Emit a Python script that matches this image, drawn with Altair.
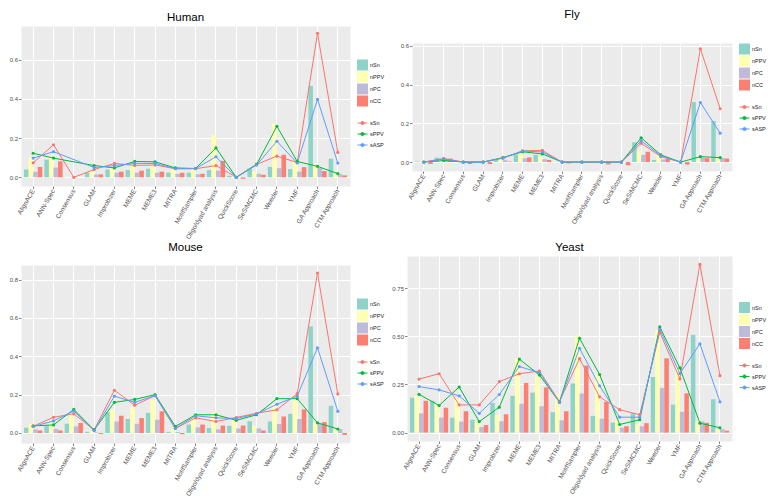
import altair as alt
import pandas as pd
import numpy as np

cats = ["AlignACE", "ANN-Spec", "Consensus", "GLAM", "Improbizer", "MEME", "MEME3",
        "MITRA", "MotifSampler", "Oligo/dyad analysis", "QuickScore", "SeSiMCMC",
        "Weeder", "YMF", "GA Approach", "CTM Approach"]
bar_series = ["nSn", "nPPV", "nPC", "nCC"]
line_series = ["sSn", "sPPV", "sASP"]
bar_colors = ["#8DD3C7", "#FFFFB3", "#BEBADA", "#FB8072"]
line_colors = ["#F8766D", "#00BA38", "#619CFF"]

# Human
h_nSn = [0.040, 0.090, 0.000, 0.024, 0.040, 0.037, 0.044, 0.024, 0.024, 0.037, 0.008, 0.045, 0.053, 0.042, 0.466, 0.095]
h_nPPV = [0.104, 0.106, 0.000, 0.030, 0.052, 0.076, 0.068, 0.044, 0.044, 0.215, 0.000, 0.029, 0.274, 0.085, 0.065, 0.020]
h_nPC = [0.029, 0.050, 0.000, 0.015, 0.024, 0.024, 0.024, 0.018, 0.016, 0.034, 0.000, 0.018, 0.047, 0.029, 0.048, 0.016]
h_nCC = [0.053, 0.082, 0.000, 0.015, 0.029, 0.034, 0.029, 0.023, 0.018, 0.084, -0.007, 0.013, 0.115, 0.052, 0.032, 0.010]
h_sSn = [0.074, 0.166, 0.000, 0.040, 0.071, 0.061, 0.063, 0.044, 0.044, 0.060, 0.000, 0.066, 0.108, 0.076, 0.734, 0.127]
h_sPPV = [0.123, 0.098, None, 0.060, 0.048, 0.081, 0.079, 0.048, 0.045, 0.150, 0.000, 0.066, 0.260, 0.081, 0.056, 0.019]
h_sASP = [0.098, 0.131, None, 0.050, 0.060, 0.071, 0.071, 0.044, 0.045, 0.105, 0.000, 0.063, 0.184, 0.073, 0.397, 0.073]

# Fly
f_nSn = [0.003, 0.023, 0.000, 0.000, 0.015, 0.039, 0.037, 0.000, 0.000, 0.000, 0.000, 0.102, 0.011, 0.000, 0.309, 0.212]
f_nPPV = [0.000, 0.010, 0.000, 0.000, 0.023, 0.047, 0.028, 0.000, 0.003, 0.000, 0.000, 0.055, 0.039, 0.000, 0.020, 0.023]
f_nPC = [0.000, 0.012, 0.000, 0.000, 0.010, 0.019, 0.015, 0.000, 0.000, 0.000, 0.000, 0.037, 0.013, 0.000, 0.023, 0.021]
f_nCC = [-0.010, 0.018, -0.010, -0.010, 0.003, 0.024, 0.011, -0.007, -0.004, -0.012, -0.016, 0.053, 0.016, -0.013, 0.020, 0.018]
f_sSn = [0.000, 0.019, 0.000, 0.000, 0.020, 0.058, 0.060, 0.000, 0.000, 0.000, 0.000, 0.097, 0.028, 0.000, 0.584, 0.275]
f_sPPV = [0.000, 0.008, 0.000, 0.000, 0.023, 0.053, 0.042, 0.000, 0.000, 0.000, 0.000, 0.125, 0.037, 0.000, 0.028, 0.023]
f_sASP = [0.000, 0.016, 0.000, 0.000, 0.021, 0.057, 0.052, 0.000, 0.000, 0.000, 0.000, 0.110, 0.032, 0.000, 0.307, 0.149]

# Mouse
m_nSn = [0.027, 0.036, 0.048, 0.006, 0.108, 0.073, 0.105, 0.006, 0.044, 0.026, 0.037, 0.061, 0.060, 0.100, 0.556, 0.142]
m_nPPV = [0.048, 0.048, 0.100, 0.013, 0.121, 0.134, 0.171, 0.021, 0.086, 0.107, 0.086, 0.037, 0.150, 0.200, 0.053, 0.021]
m_nPC = [0.019, 0.021, 0.034, 0.003, 0.060, 0.048, 0.069, 0.005, 0.029, 0.019, 0.024, 0.024, 0.047, 0.073, 0.048, 0.021]
m_nCC = [0.013, 0.013, 0.052, -0.005, 0.090, 0.078, 0.113, -0.006, 0.044, 0.039, 0.039, 0.013, 0.086, 0.123, 0.057, -0.010]
m_sSn = [0.035, 0.082, 0.100, 0.016, 0.223, 0.145, 0.195, 0.023, 0.079, 0.060, 0.081, 0.103, 0.121, 0.205, 0.834, 0.204]
m_sPPV = [0.037, 0.042, 0.123, 0.016, 0.160, 0.175, 0.200, 0.034, 0.095, 0.095, 0.066, 0.095, 0.179, 0.179, 0.053, 0.021]
m_sASP = [0.034, 0.063, 0.115, 0.013, 0.192, 0.160, 0.195, 0.024, 0.090, 0.079, 0.076, 0.099, 0.150, 0.192, 0.444, 0.113]

# Yeast
y_nSn = [0.181, 0.165, 0.077, 0.067, 0.154, 0.191, 0.208, 0.106, 0.255, 0.087, 0.052, 0.101, 0.289, 0.145, 0.508, 0.173]
y_nPPV = [0.190, 0.149, 0.181, 0.060, 0.092, 0.386, 0.296, 0.200, 0.505, 0.304, 0.067, 0.041, 0.533, 0.345, 0.059, 0.018]
y_nPC = [0.100, 0.078, 0.057, 0.029, 0.059, 0.150, 0.137, 0.064, 0.203, 0.072, 0.025, 0.033, 0.232, 0.108, 0.059, 0.018]
y_nCC = [0.165, 0.129, 0.111, 0.039, 0.095, 0.258, 0.235, 0.111, 0.348, 0.160, 0.033, 0.049, 0.386, 0.204, 0.051, 0.010]
y_sSn = [0.278, 0.306, 0.144, 0.144, 0.265, 0.306, 0.320, 0.162, 0.384, 0.186, 0.119, 0.093, 0.521, 0.279, 0.874, 0.296]
y_sPPV = [0.199, 0.141, 0.237, 0.057, 0.132, 0.382, 0.299, 0.158, 0.490, 0.302, 0.042, 0.067, 0.549, 0.337, 0.049, 0.025]
y_sASP = [0.239, 0.222, 0.191, 0.100, 0.198, 0.343, 0.312, 0.157, 0.438, 0.243, 0.080, 0.080, 0.536, 0.307, 0.461, 0.160]

FONT = "Liberation Sans"
LINE_SYMBOL = "M-1,0L1,0M-0.32,0A0.32,0.32,0,1,1,0.32,0A0.32,0.32,0,1,1,-0.32,0Z"


def title_params(text, offset):
    return alt.TitleParams(text=text, offset=offset, anchor="middle", font=FONT,
                           fontSize=11.5, fontWeight="normal", color="black")


def make_panel(bars, lines, w, h, major, fmt, ext, title=None, title_offset=3):
    brows = []
    for s, vals in zip(bar_series, bars):
        for c, v in zip(cats, vals):
            brows.append({"cat": c, "series": s, "value": v})
    bdf = pd.DataFrame(brows)
    lrows = []
    for s, vals in zip(line_series, lines):
        for c, v in zip(cats, vals):
            if v is not None:
                lrows.append({"cat": c, "series": s, "value": v})
    ldf = pd.DataFrame(lrows)

    allv = list(bdf["value"]) + list(ldf["value"])
    lo, hi = min(min(allv), 0.0), max(allv)
    pad = (hi - lo) * 0.05
    dom = [lo - pad, hi + pad]
    minor = major / 2
    k0 = int(np.ceil(dom[0] / minor - 1e-9))
    k1 = int(np.floor(dom[1] / minor + 1e-9))
    vals = [round(k * minor, 5) for k in range(k0, k1 + 1)]
    test = f"abs(datum.value / {major} - round(datum.value / {major})) < 0.001"

    yaxis = alt.Axis(
        title=None, values=vals, labelOverlap=False, minExtent=ext, maxExtent=ext,
        labelFontSize=6,
        labelExpr=f"({test}) ? format(datum.value, '{fmt}') : ''",
        gridWidth={"condition": {"test": test, "value": 1.0}, "value": 0.5},
        tickColor={"condition": {"test": test, "value": "#333333"}, "value": "transparent"},
    )
    yscale = alt.Scale(domain=dom, nice=False, zero=False)
    xscale = alt.Scale(domain=cats, paddingInner=0.1, paddingOuter=0.15)
    xaxis = alt.Axis(title=None, labelAngle=-60, bandPosition=0.5, grid=True,
                     gridWidth=1.0, labelFontSize=6.5, labelPadding=1)

    leg_fill_y = (h - 93) / 2
    fill_legend = alt.Legend(title=None, orient="none", legendX=w + 7, legendY=leg_fill_y,
                             symbolType="square", symbolSize=121, symbolStrokeWidth=0,
                             rowPadding=1, labelOffset=2, padding=0)
    color_legend = alt.Legend(title=None, orient="none", legendX=w + 7, legendY=leg_fill_y + 58,
                              symbolType=LINE_SYMBOL, symbolSize=100, symbolStrokeWidth=1,
                              rowPadding=1, labelOffset=2, padding=0)

    bars_layer = alt.Chart(bdf).mark_bar().encode(
        x=alt.X("cat:N", sort=cats, scale=xscale, axis=xaxis),
        xOffset=alt.XOffset("series:N", sort=bar_series,
                            scale=alt.Scale(domain=bar_series, paddingInner=0, paddingOuter=0)),
        y=alt.Y("value:Q", scale=yscale, axis=yaxis),
        fill=alt.Fill("series:N", sort=bar_series,
                      scale=alt.Scale(domain=bar_series, range=bar_colors), legend=fill_legend),
    )
    color_enc = alt.Color("series:N", sort=line_series,
                          scale=alt.Scale(domain=line_series, range=line_colors), legend=color_legend)
    line_layer = alt.Chart(ldf).mark_line(strokeWidth=1).encode(
        x=alt.X("cat:N", sort=cats),
        y=alt.Y("value:Q"),
        color=color_enc,
    )
    point_layer = alt.Chart(ldf).mark_point(filled=True, size=10, opacity=1).encode(
        x=alt.X("cat:N", sort=cats),
        y=alt.Y("value:Q"),
        color=color_enc,
    )
    layered = alt.layer(bars_layer, line_layer, point_layer).properties(width=w, height=h)
    if title is not None:
        layered = layered.properties(title=title_params(title, title_offset))
    return layered


def titled_spacer(title, w, s, offset):
    # an empty strip that carries the panel title above a lower-placed panel
    return alt.Chart(pd.DataFrame({"v": [0]})).mark_point(opacity=0).encode(
        x=alt.value(0), y=alt.value(0)
    ).properties(width=w, height=s, title=title_params(title, offset),
                 view=alt.ViewBackground(fill="white", stroke="transparent"))


human = make_panel([h_nSn, h_nPPV, h_nPC, h_nCC], [h_sSn, h_sPPV, h_sASP],
                   329, 160, 0.2, ".1f", 12, title="Human", title_offset=3)
fly_body = make_panel([f_nSn, f_nPPV, f_nPC, f_nCC], [f_sSn, f_sPPV, f_sASP],
                      320, 128, 0.2, ".1f", 21)
fly = alt.vconcat(titled_spacer("Fly", 320, 14, 3), fly_body, spacing=1).resolve_scale(
    x="independent", y="independent")
mouse_body = make_panel([m_nSn, m_nPPV, m_nPC, m_nCC], [m_sSn, m_sPPV, m_sASP],
                        329, 178, 0.2, ".1f", 12)
mouse = alt.vconcat(titled_spacer("Mouse", 329, 6, 0), mouse_body, spacing=1).resolve_scale(
    x="independent", y="independent")
yeast = make_panel([y_nSn, y_nPPV, y_nPC, y_nCC], [y_sSn, y_sPPV, y_sASP],
                   325, 185, 0.25, ".2f", 16, title="Yeast", title_offset=3)

chart = alt.concat(human, fly, mouse, yeast, columns=2,
                   align={"row": "each", "column": "none"}, bounds="full",
                   spacing={"row": 0, "column": 4}).resolve_scale(
    x="independent", y="independent", xOffset="independent",
    fill="independent", color="independent",
).resolve_legend(fill="independent", color="independent").properties(
    padding=0, background="white"
).configure_view(
    fill="#EBEBEB", stroke="transparent"
).configure_axis(
    domain=False, labelFont=FONT, labelFontSize=6, labelColor="#4D4D4D",
    tickColor="#333333", tickSize=2.5, tickWidth=0.6, gridColor="white", labelPadding=1,
).configure_legend(
    labelFont=FONT, labelFontSize=5.5, labelColor="#1A1A1A",
)

chart.save("out.html", embed_options={"renderer": "svg", "actions": False})
